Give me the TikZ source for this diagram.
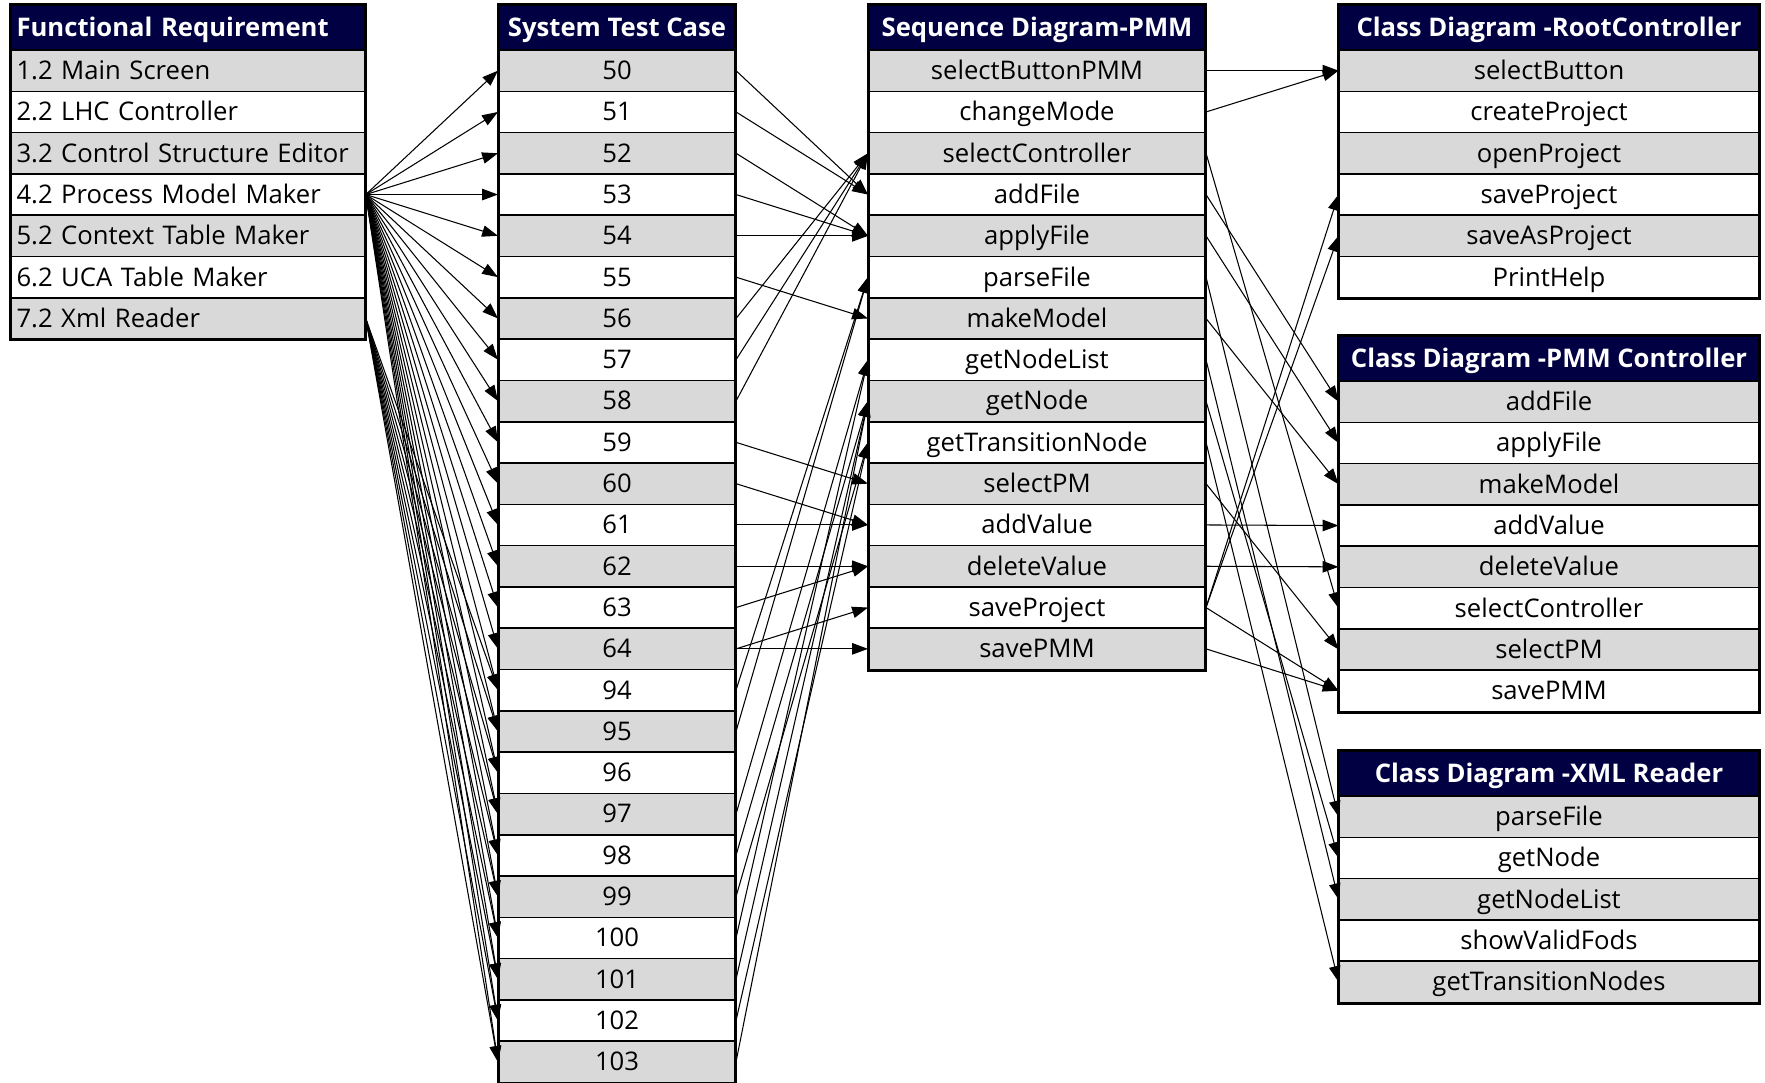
\documentclass[tikz,border=0pt]{standalone}
\usepackage{fontspec}
\setmainfont{Open Sans}
\usetikzlibrary{arrows.meta}
\definecolor{headnavy}{RGB}{0,0,66}
\definecolor{rowgray}{RGB}{217,217,217}
\tikzset{
  cell/.style={draw, line width=0.9pt, minimum height=0.826cm, inner sep=0pt, text height=12.3pt, text depth=2.2pt,
    font=\fontsize{14.6}{16}\selectfont},
  head/.style={cell, fill=headnavy, text=white, minimum height=0.9cm, font=\fontsize{14.6}{16}\selectfont\bfseries},
  frcell/.style={text width=6.86cm, inner xsep=0.11cm, align=left},
  link/.style={-{Triangle[length=9pt,width=6.5pt]}, line width=0.6pt},
}
\begin{document}
\begin{tikzpicture}[x=0.02cm,y=-0.02cm]
\useasboundingbox (0,0) rectangle (1765,1082);
% functional requirements
\node[head, frcell] (frh) at (188,27.5) {Functional Requirement};
\foreach \t [count=\i, evaluate=\i as \sh using {int(100*mod(\i,2))}] in
  {1.2 Main Screen, 2.2 LHC Controller, 3.2 Control Structure Editor, 4.2 Process Model Maker,
   5.2 Context Table Maker, 6.2 UCA Table Maker, 7.2 Xml Reader}
  \node[cell, frcell, fill=rowgray!\sh] (fr\i) at (188,{70.65+41.3*(\i-1)}) {\t};
% system test cases
\node[head, minimum width=4.73cm] (tch) at (617,27.5) {System Test Case};
\foreach \t [count=\i, evaluate=\i as \sh using {int(100*mod(\i,2))}] in
  {50,51,52,53,54,55,56,57,58,59,60,61,62,63,64,94,95,96,97,98,99,100,101,102,103}
  \node[cell, minimum width=4.73cm, fill=rowgray!\sh] (tc\t) at (617,{70.65+41.3*(\i-1)}) {\t};
% sequence diagram
\node[head, minimum width=6.73cm] (sqh) at (1037,27.5) {Sequence Diagram-PMM};
\foreach \t [count=\i, evaluate=\i as \sh using {int(100*mod(\i,2))}] in
  {selectButtonPMM, changeMode, selectController, addFile, applyFile, parseFile, makeModel,
   getNodeList, getNode, getTransitionNode, selectPM, addValue, deleteValue, saveProject, savePMM}
  \node[cell, minimum width=6.73cm, fill=rowgray!\sh] (sq-\t) at (1037,{70.65+41.3*(\i-1)}) {\t};
% class diagrams
\node[head, minimum width=8.39cm] (rch) at (1549,27.5) {Class Diagram -RootController};
\foreach \t [count=\i, evaluate=\i as \sh using {int(100*mod(\i,2))}] in
  {selectButton, createProject, openProject, saveProject, saveAsProject, PrintHelp}
  \node[cell, minimum width=8.39cm, fill=rowgray!\sh] (rc-\t) at (1549,{70.65+41.3*(\i-1)}) {\t};
\node[head, minimum width=8.39cm] (pch) at (1549,359) {Class Diagram -PMM Controller};
\foreach \t [count=\i, evaluate=\i as \sh using {int(100*mod(\i,2))}] in
  {addFile, applyFile, makeModel, addValue, deleteValue, selectController, selectPM, savePMM}
  \node[cell, minimum width=8.39cm, fill=rowgray!\sh] (pc-\t) at (1549,{401.65+41.3*(\i-1)}) {\t};
\node[head, minimum width=8.39cm] (xrh) at (1549,773.5) {Class Diagram -XML Reader};
\foreach \t [count=\i, evaluate=\i as \sh using {int(100*mod(\i,2))}] in
  {parseFile, getNode, getNodeList, showValidFods, getTransitionNodes}
  \node[cell, minimum width=8.39cm, fill=rowgray!\sh] (xr-\t) at (1549,{816.65+41.3*(\i-1)}) {\t};
% outer frames
\draw[line width=1.6pt] (frh.north west) rectangle (fr7.south east);
\draw[line width=1.6pt] (tch.north west) rectangle (tc103.south east);
\draw[line width=1.6pt] (sqh.north west) rectangle (sq-savePMM.south east);
\draw[line width=1.6pt] (rch.north west) rectangle (rc-PrintHelp.south east);
\draw[line width=1.6pt] (pch.north west) rectangle (pc-savePMM.south east);
\draw[line width=1.6pt] (xrh.north west) rectangle (xr-getTransitionNodes.south east);
% requirement -> test case
\foreach \n in {50,51,52,53,54,55,56,57,58,59,60,61,62,63,64,94,95,96,97,98,99,100,101,102,103}
  \draw[link] (fr4.east) -- (tc\n.west);
\foreach \n in {94,95,96,97,98,99,100,101,102,103}
  \draw[link] (fr7.east) -- (tc\n.west);
% test case -> sequence diagram
\foreach \a/\b in {50/addFile, 51/addFile, 52/applyFile, 53/applyFile, 54/applyFile,
  55/makeModel, 56/selectController, 57/selectController, 58/selectController, 59/selectPM,
  60/addValue, 61/addValue, 62/deleteValue, 63/deleteValue, 64/saveProject, 64/savePMM,
  94/parseFile, 95/parseFile, 97/getNodeList, 98/getNode, 99/getTransitionNode,
  100/getNodeList, 101/getNode, 102/getTransitionNode, 103/getNode}
  \draw[link] (tc\a.east) -- (sq-\b.west);
% sequence diagram -> class diagrams
\foreach \a/\b in {selectButtonPMM/rc-selectButton, changeMode/rc-selectButton,
  selectController/pc-selectController, addFile/pc-addFile, applyFile/pc-applyFile,
  parseFile/xr-parseFile, makeModel/pc-makeModel, getNodeList/xr-getNodeList,
  getNode/xr-getNode, getTransitionNode/xr-getTransitionNodes, selectPM/pc-selectPM,
  addValue/pc-addValue, deleteValue/pc-deleteValue, saveProject/rc-saveProject,
  saveProject/rc-saveAsProject, saveProject/pc-savePMM, savePMM/pc-savePMM}
  \draw[link] (sq-\a.east) -- (\b.west);
\end{tikzpicture}
\end{document}
